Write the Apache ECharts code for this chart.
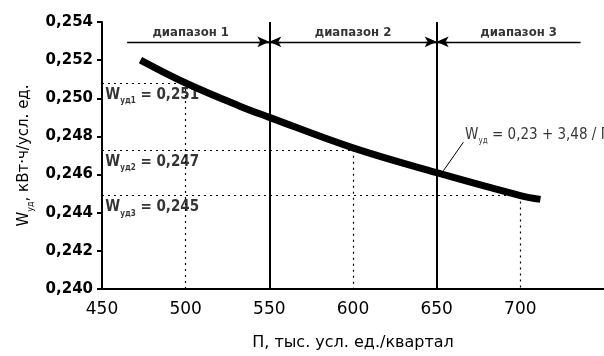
<!DOCTYPE html>
<html>
<head>
<meta charset="utf-8">
<script src="https://cdn.jsdelivr.net/npm/echarts@6/dist/echarts.min.js"></script>
<style>
  html, body { margin: 0; background: #fff; }
  #chart { width: 604px; height: 356px; }
</style>
</head>
<body>
<div id="chart"></div>
<script>
// values
const curveX = [473, 500, 532, 550, 600, 650, 700, 712];
const curveY = [0.2520, 0.2508, 0.2496, 0.2490, 0.2474, 0.2461, 0.2449, 0.2447];

const boundaryX = [550, 650];
const rangeLabels = ['диапазон 1', 'диапазон 2', 'диапазон 3'];
const rangeLabelX = [503, 600, 699];
const rangeLineX = [465, 736];
const rangeLineY = 0.25296;
const rangeLabelY = 0.25343;

const levelX = [500, 600, 700];
const levelY = [0.2508, 0.2473, 0.2449];
const levelSub = ['уд1', 'уд2', 'уд3'];
const levelText = ['0,251', '0,247', '0,245'];

const formulaAt = [667, 0.24806];
const leaderFrom = [654, 0.2462];
const leaderTo = [666, 0.2477];

const yMin = 0.240, yMax = 0.254, yStep = 0.002;
const xMin = 450, xMax = 750, xStep = 50;

const FONT = '"DejaVu Sans", sans-serif';
const COND = '"DejaVu Sans Condensed", "DejaVu Sans", sans-serif';
const dotted = { color: '#000', width: 1.2, type: [2, 4] };
const solid = { color: '#000', width: 2, type: 'solid' };

function richSet(size, weight, family) {
  return {
    w: { fontSize: size, lineHeight: size + 4, fontFamily: family, fontWeight: weight, color: '#000' },
    s: { fontSize: 8, lineHeight: 8, padding: [size - 3, 0, 0, 0], fontFamily: family, fontWeight: weight, color: '#000' }
  };
}

function seg(a, b, style, sym) {
  return [
    { coord: a, symbol: sym ? sym[0] : 'none' },
    { coord: b, symbol: sym ? sym[1] : 'none', lineStyle: style }
  ];
}

const lines = [];
// boundaries between ranges
boundaryX.forEach(x => lines.push(seg([x, yMin], [x, yMax], solid)));
// range line
lines.push(seg([rangeLineX[0], rangeLineY], [rangeLineX[1], rangeLineY], { color: '#000', width: 1.4, type: 'solid' }));
// arrowheads pointing at each boundary
boundaryX.forEach(x => {
  lines.push(seg([x - 7, rangeLineY], [x, rangeLineY], { color: '#000', width: 1.4, type: 'solid' }, ['none', 'arrow']));
  lines.push(seg([x + 7, rangeLineY], [x, rangeLineY], { color: '#000', width: 1.4, type: 'solid' }, ['none', 'arrow']));
});
// dotted projections
levelX.forEach((x, i) => {
  lines.push(seg([xMin, levelY[i]], [x, levelY[i]], dotted));
  lines.push(seg([x, levelY[i]], [x, yMin], dotted));
});
// leader to formula
lines.push(seg(leaderFrom, leaderTo, { color: '#000', width: 1, type: 'solid' }));

const chart = echarts.init(document.getElementById('chart'), null, { renderer: 'canvas' });

chart.setOption({
  animation: false,
  backgroundColor: '#fff',
  grid: { left: 102, top: 22, width: 504, height: 271 },
  xAxis: {
    type: 'value',
    min: xMin, max: xMax, interval: xStep,
    name: 'П, тыс. усл. ед./квартал',
    nameLocation: 'middle',
    nameGap: 46,
    nameTextStyle: { fontFamily: FONT, fontSize: 16, color: '#000' },
    axisLine: { lineStyle: { color: '#000', width: 2 } },
    axisTick: { show: false },
    splitLine: { show: false },
    axisLabel: {
      showMaxLabel: false,
      margin: 12,
      fontFamily: FONT, fontSize: 17, color: '#000',
      formatter: v => (v % 50 === 0 && v < xMax ? String(v) : '')
    }
  },
  yAxis: {
    type: 'value',
    min: yMin, max: yMax, interval: yStep,
    name: '{w|W}{s|уд}{w|, кВт·ч/усл. ед.}',
    nameLocation: 'middle',
    nameRotate: 90,
    nameGap: 68,
    nameTextStyle: { rich: richSet(15, 'normal', FONT) },
    axisLine: { lineStyle: { color: '#000', width: 2 } },
    axisTick: { inside: false, length: 5, lineStyle: { color: '#000', width: 2 } },
    splitLine: { show: false },
    axisLabel: {
      margin: 9,
      fontFamily: FONT, fontSize: 15, fontWeight: 'bold', color: '#000',
      formatter: v => v.toFixed(3).replace('.', ',')
    }
  },
  series: [
    {
      type: 'line',
      name: 'curve',
      data: curveX.map((x, i) => [x, curveY[i]]),
      smooth: 0.4,
      symbol: 'none',
      lineStyle: { color: '#000', width: 7, cap: 'butt' },
      markLine: {
        silent: true,
        symbolSize: [8, 12],
        label: { show: false },
        data: lines
      },
      z: 3
    },
    {
      type: 'scatter',
      name: 'range labels',
      symbolSize: 0,
      data: rangeLabels.map((t, i) => [rangeLabelX[i], rangeLabelY, t]),
      label: {
        show: true, position: 'inside',
        fontFamily: COND, fontSize: 13, fontWeight: 'bold', color: '#000',
        formatter: p => p.data[2]
      }
    },
    {
      type: 'scatter',
      name: 'level labels',
      symbolSize: 0,
      data: levelX.map((x, i) => [452, levelY[i], levelSub[i], levelText[i]]),
      label: {
        show: true, position: 'right', distance: 0, offset: [0, 12],
        color: '#000',
        rich: richSet(15, 'bold', COND),
        formatter: p => '{w|W}{s|' + p.data[2] + '}{w| = ' + p.data[3] + '}'
      }
    },
    {
      type: 'scatter',
      name: 'formula',
      symbolSize: 0,
      data: [formulaAt],
      label: {
        show: true, position: 'right', distance: 0,
        color: '#000',
        rich: richSet(15, 'normal', COND),
        formatter: '{w|W}{s|уд}{w| = 0,23 + 3,48 / П}'
      }
    }
  ]
});
</script>
</body>
</html>
